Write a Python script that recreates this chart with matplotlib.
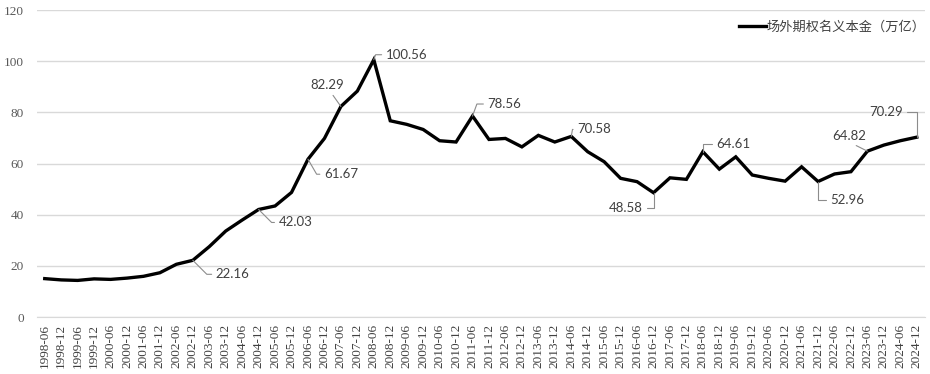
import numpy as np
import matplotlib
matplotlib.use("Agg")
from matplotlib import pyplot as plt

# semiannual periods, 1998-06 .. 2024-12
periods = [f"{y}-{m}" for y in range(1998, 2025) for m in ("06", "12")]

# notional principal of OTC options (trillion)
values = [
    15.0, 14.5, 14.3, 14.9, 14.7, 15.2, 15.9, 17.3, 20.6, 22.16,
    27.5, 33.6, 37.9, 42.03, 43.4, 48.7, 61.67, 69.8, 82.29, 88.3,
    100.56, 76.7, 75.3, 73.3, 68.9, 68.4, 78.56, 69.4, 69.8, 66.5,
    71.0, 68.4, 70.58, 64.6, 60.7, 54.2, 52.9, 48.58, 54.4, 53.8,
    64.61, 57.8, 62.6, 55.5, 54.2, 53.1, 58.7, 52.96, 55.9, 56.8,
    64.82, 67.2, 68.9, 70.29,
]

series_name = "场外期权名义本金（万亿）"
y_ticks = [0, 20, 40, 60, 80, 100, 120]

# labelled points: index, text offset (px), alignment, leader anchor, leader shape
callouts = [
    (9,  (23, -14),  "left",   (0, 0.5), "angle,angleA=0,angleB=-45,rad=0"),
    (13, (20, -13),  "left",   (0, 0.5), "angle,angleA=0,angleB=-45,rad=0"),
    (16, (16, -15),  "left",   (0, 0.5), "angle,angleA=0,angleB=-60,rad=0"),
    (18, (-14, 21),  "center", (0.6, 0), "arc3"),
    (20, (12, 5),    "left",   (0, 0.5), "angle,angleA=0,angleB=70,rad=0"),
    (26, (15, 12),   "left",   (0, 0.5), "angle,angleA=0,angleB=70,rad=0"),
    (32, (6, 7),     "left",   (0, 0.5), "angle,angleA=0,angleB=80,rad=0"),
    (37, (-11, -15), "right",  (1, 0.5), "angle,angleA=0,angleB=90,rad=0"),
    (40, (13, 8),    "left",   (0, 0.5), "angle,angleA=0,angleB=90,rad=0"),
    (47, (12, -18),  "left",   (0, 0.5), "angle,angleA=0,angleB=90,rad=0"),
    (50, (-18, 15),  "center", (0.5, 0), "arc3"),
    (53, (-14, 25),  "right",  (1, 0.5), "angle,angleA=0,angleB=90,rad=0"),
]

W, H = 930, 374
fig = plt.figure(figsize=(W / 100, H / 100), dpi=100)
ax = fig.add_axes([36.5 / W, (H - 317) / H, (925 - 36.5) / W, (317 - 10) / H])

x = np.arange(len(periods))
ax.plot(x, values, color="black", lw=2.4, solid_joinstyle="miter", label=series_name, zorder=3)

ax.set_xlim(-0.5, len(periods) - 0.5)
ax.set_ylim(0, 120)
ax.set_yticks(y_ticks)
ax.yaxis.grid(True, color="#d9d9d9", lw=1)
ax.set_axisbelow(True)
for side in ("top", "right", "left"):
    ax.spines[side].set_visible(False)
ax.spines["bottom"].set_color("#d9d9d9")

ax.set_xticks(x)
ax.set_xticklabels(periods, rotation=90)
ax.tick_params(axis="x", length=0, pad=5, labelsize=9.5, labelcolor="#404040",
               labelfontfamily="Liberation Serif")
ax.tick_params(axis="y", length=0, pad=9, labelsize=9.5, labelcolor="#595959",
               labelfontfamily="Liberation Serif")

for idx, offset, ha, relpos, conn in callouts:
    ax.annotate(f"{values[idx]:.2f}", (x[idx], values[idx]), xytext=offset,
                textcoords="offset pixels", ha=ha, va="center",
                family="Lato", fontsize=9.5, color="#404040", zorder=4,
                arrowprops=dict(arrowstyle="-", color="#8c8c8c", lw=0.8,
                                shrinkA=1, shrinkB=0, relpos=relpos,
                                connectionstyle=conn))

leg = fig.legend(loc="upper right", bbox_to_anchor=(926 / W, (H - 21) / H), frameon=False,
                 prop={"family": ["Noto Sans CJK SC", "DejaVu Sans"], "size": 9.5},
                 handlelength=2.0, handletextpad=0.1, borderpad=0, borderaxespad=0)
for t in leg.get_texts():
    t.set_color("#404040")

fig.savefig("out.png", dpi=100)
